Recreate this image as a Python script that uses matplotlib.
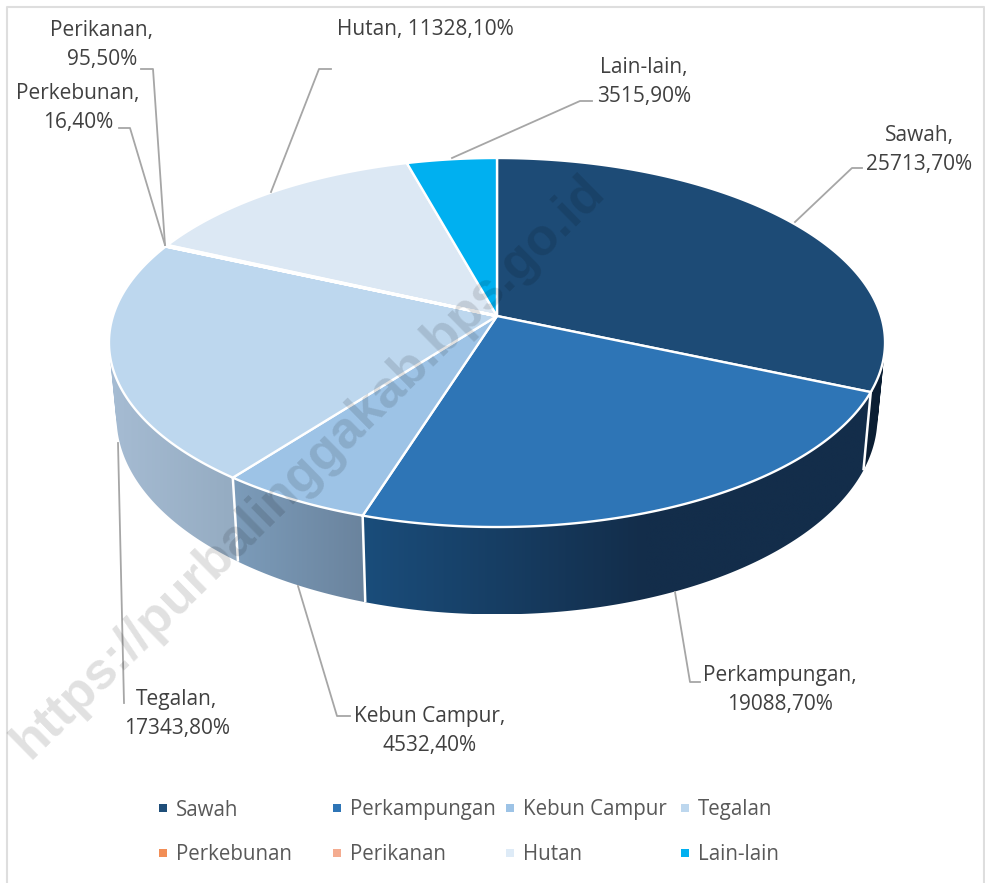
import numpy as np
import matplotlib
matplotlib.use('Agg')
import matplotlib.pyplot as plt
from matplotlib.colors import to_rgb
from matplotlib.patches import PathPatch
from matplotlib.path import Path

### data
categories = ['Sawah', 'Perkampungan', 'Kebun Campur', 'Tegalan', 'Perkebunan', 'Perikanan', 'Hutan', 'Lain-lain']
values = [25713.7, 19088.7, 4532.4, 17343.8, 16.4, 95.5, 11328.1, 3515.9]
value_labels = ['25713,70%', '19088,70%', '4532,40%', '17343,80%', '16,40%', '95,50%', '11328,10%', '3515,90%']
colors = ['#1D4B76', '#2E75B6', '#9DC3E6', '#BDD7EE', '#ED7D31', '#F4B183', '#DCE8F4', '#00B0F0']
legend_colors = ['#1F4E79', '#2E75B6', '#9DC3E6', '#BDD7EE', '#F28E56', '#F4AC90', '#DEEBF7', '#00B0F0']
# side wall colours: left end, right end, and x where the right colour is reached
wall_colors = {0: ('#0F2740', '#0B1E33', 885), 1: ('#1A4D7B', '#132D4A', 645),
               2: ('#7C9CBA', '#6A839D', 365), 3: ('#A6BCD3', '#94ABC1', 238)}

TEXT = '#404040'
plt.rcParams['font.family'] = ['Open Sans', 'DejaVu Sans']

fig = plt.figure(figsize=(9.85, 8.83), dpi=100)
ax = fig.add_axes([0, 0, 1, 1])

## perspective of the disc, angles clockwise from the top
def top_pt(a):
    u, v = np.sin(a), np.cos(a)
    w = 1 + 0.1437 * v
    return 497 + 384 * u / w, 316 - 180.7 * v / w

def low_pt(a):
    u, v = np.sin(a), np.cos(a)
    w = 1 + 0.1437 * v
    return 497 + 376.5 * u / w, 389 - 193 * v / w

# wall outline as one path of equally wound quads, so the silhouette stays filled
def wall_path(xt, yt, xb, yb):
    verts, codes = [], []
    for j in range(len(xt) - 1):
        q = [(xt[j], yt[j]), (xt[j + 1], yt[j + 1]), (xb[j + 1], yb[j + 1]), (xb[j], yb[j])]
        qx, qy = np.array(q).T
        area = np.sum(qx * np.roll(qy, -1) - np.roll(qx, -1) * qy)
        if area < 0:
            q = q[::-1]
        verts += q + [q[0]]
        codes += [Path.MOVETO, Path.LINETO, Path.LINETO, Path.LINETO, Path.CLOSEPOLY]
    return Path(verts, codes)

edges = np.concatenate([[0], np.cumsum(values)]) / np.sum(values) * 2 * np.pi

## frame
ax.plot([7, 7, 984, 984], [883, 7, 7, 883], color='#DEDEDE', lw=1.5, zorder=0)

## side walls, horizontal gradient clipped to the wall outline
for i, (c_left, c_right, x_end) in wall_colors.items():
    angles = np.linspace(edges[i], edges[i + 1], 200)
    xt, yt = top_pt(angles)
    xb, yb = low_pt(angles)
    px = np.r_[xt, xb]
    py = np.r_[yt, yb]
    x0, x1 = px.min(), px.max()
    cols = np.linspace(x0, x1, 256)
    t = np.clip((cols - x0) / max(x_end - x0, 1), 0, 1)[:, None]
    grad = (np.array(to_rgb(c_left)) * (1 - t) + np.array(to_rgb(c_right)) * t)[None, :, :]
    im = ax.imshow(grad, extent=[x0, x1, py.max(), py.min()], aspect='auto', zorder=1, interpolation='bilinear')
    clip = PathPatch(wall_path(xt, yt, xb, yb), transform=ax.transData)
    im.set_clip_path(clip)

for e in edges[1:4]:
    xa, ya = top_pt(e)
    xc, yc = low_pt(e)
    ax.plot([xa, xc], [ya, yc], color='white', lw=1.8, zorder=2, solid_capstyle='butt')

## top of the disc
for i in range(len(values)):
    angles = np.linspace(edges[i], edges[i + 1], 200)
    x, y = top_pt(angles)
    tiny = values[i] < 200
    ax.fill(np.r_[497, x], np.r_[316, y], facecolor=colors[i], edgecolor='white', lw=2.0 if tiny else 1.7,
            joinstyle='miter', zorder=3.5 if tiny else 3)

## leader lines
leaders = [
    ([795, 852, 862], [222, 168, 168]),
    ([675, 690, 700], [592, 682, 682]),
    ([298, 337, 350], [586, 716, 716]),
    ([118, 124], [443, 703]),
    ([165, 130, 119], [245, 128, 128]),
    ([165, 153, 141], [245, 69, 69]),
    ([271, 319, 331], [192, 69, 69]),
    ([452, 580, 592], [158, 101, 101]),
]
for lx, ly in leaders:
    ax.plot(lx, ly, color='#A6A6A6', lw=1.3, zorder=4)

## data labels
label_pos = [(919, 150), (780, 690), (430, 731), (177, 714), (78, 108), (102, 45), (425, 30), (644, 82)]
for i, (px, py) in enumerate(label_pos):
    sep = ' ' if categories[i] == 'Hutan' else '\n'
    ax.text(px, py, categories[i] + ',' + sep + value_labels[i], ha='center', va='center',
            fontsize=15, color=TEXT, linespacing=1.5, zorder=5)

## legend
legend_x = [163, 337, 510, 685]
legend_y = [808, 853]
for i, name in enumerate(categories):
    lx = legend_x[i % 4]
    ly = legend_y[i // 4]
    ax.scatter([lx], [ly], marker='s', s=30, color=legend_colors[i], lw=0, zorder=5)
    ax.text(lx + 13, ly + 2, name, ha='left', va='center', fontsize=14.8, color='#595959', zorder=5)

## watermark
ax.text(308, 467, 'https://purbalinggakab.bps.go.id', family='Liberation Sans', fontweight='bold',
        fontsize=37.5, color='black', alpha=0.12, rotation=44.5, rotation_mode='anchor',
        ha='center', va='center', zorder=6)

ax.set_xlim(0, 985)
ax.set_ylim(883, 0)
ax.axis('off')

fig.savefig('out.png', dpi=100)
